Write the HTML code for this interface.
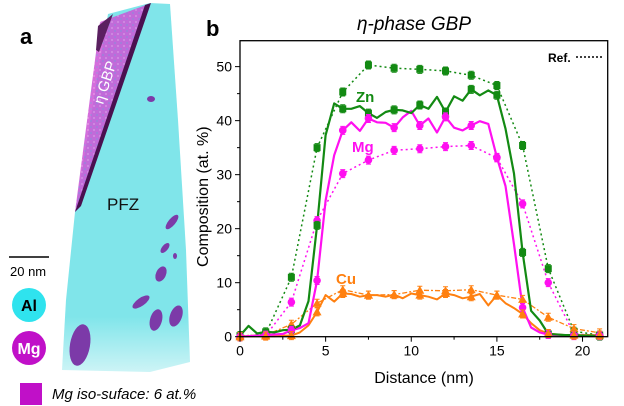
<!DOCTYPE html>
<html><head><meta charset="utf-8"><style>
body{margin:0;background:#fff;width:624px;height:406px;overflow:hidden;font-family:"Liberation Sans",sans-serif}
svg{display:block}
</style></head><body>
<svg id="fig" width="624" height="406" viewBox="0 0 624 406">
<defs>
<linearGradient id="fade" x1="0" y1="0" x2="0" y2="1"><stop offset="0.85" stop-color="#80e5ea"/><stop offset="1" stop-color="#cdf4f6"/></linearGradient>
<pattern id="speck" width="6" height="6" patternUnits="userSpaceOnUse"><rect width="6" height="6" fill="#cc55d6"/><circle cx="1" cy="1" r="1" fill="#a070d8"/><circle cx="4" cy="4" r="1" fill="#e080e0"/></pattern>
</defs>
<g>
<text x="20" y="44" font-size="22" font-weight="bold">a</text>
<polygon points="108,14 150,3 170,4 178,120 186,250 190,362 150,372 62,370 66,300 75,212" fill="url(#fade)"/>
<polygon points="100,22 146,5 80,205 75,212" fill="url(#speck)" opacity="0.85"/>
<polygon points="145,5 151,3 81,206 75,212" fill="#4a1050"/>
<polygon points="98,26 113,14 99,52 96,50" fill="#5a2060"/>
<text x="0" y="0" font-size="15" fill="#fff" transform="translate(103,105) rotate(-72)">η GBP</text>
<text x="107" y="210" font-size="17" fill="#111">PFZ</text>
<g fill="#7c3aa8">
<ellipse cx="151" cy="99" rx="4" ry="3"/>
<ellipse cx="172" cy="222" rx="3.5" ry="9" transform="rotate(40 172 222)"/>
<ellipse cx="165" cy="248" rx="3" ry="6" transform="rotate(40 165 248)"/>
<ellipse cx="175" cy="256" rx="2" ry="3"/>
<ellipse cx="161" cy="274" rx="5" ry="8" transform="rotate(25 161 274)"/>
<ellipse cx="141" cy="302" rx="4" ry="10" transform="rotate(55 141 302)"/>
<ellipse cx="156" cy="320" rx="6" ry="11" transform="rotate(15 156 320)"/>
<ellipse cx="176" cy="316" rx="6" ry="11" transform="rotate(20 176 316)"/>
<ellipse cx="80" cy="345" rx="10" ry="21" transform="rotate(10 80 345)"/>
</g>
<line x1="9" y1="257" x2="49" y2="257" stroke="#000" stroke-width="1.5"/>
<text x="10" y="276" font-size="13">20 nm</text>
<circle cx="29" cy="305" r="17" fill="#2fe3ee"/>
<text x="29" y="311" font-size="16" font-weight="bold" text-anchor="middle">Al</text>
<circle cx="29" cy="348" r="17" fill="#c010c8"/>
<text x="29" y="354" font-size="16" font-weight="bold" fill="#fff" text-anchor="middle">Mg</text>
<rect x="20" y="383" width="22" height="22" fill="#c010c8"/>
<text x="52" y="399" font-size="15" font-style="italic">Mg iso-suface: 6 at.%</text>
</g>
<g id="chart"></g>
</svg>
<script>
const xSolid = [0,0.5,1,1.5,2,2.5,3,3.5,4,4.5,5,5.5,6,6.5,7,7.5,8,8.5,9,9.5,10,10.5,11,11.5,12,12.5,13,13.5,14,14.5,15,15.5,16,16.5,17,17.5,18,18.5,19,19.5,20,20.5,21];
const znSolid = [0.2,2.0,0.6,0.9,0.8,1.2,1.3,2.1,6.6,20.6,37.3,43.2,42.2,42.2,42.7,41.4,40.5,41.6,42.0,41.9,41.4,42.9,42.2,44.4,41.6,44.5,43.7,45.8,44.7,45.6,44.7,38.5,30.2,15.6,4.8,3.0,0.5,0.4,0.3,0.3,0.2,0.2,0.1];
const mgSolid = [0,0.1,0.2,0.3,0.4,0.5,1.2,1.6,2.5,10.4,25.2,33.6,38.2,39.7,38.1,40.4,39.7,39.6,38.7,40.6,41.8,39.1,40.4,37.8,40.7,38.7,38.2,39.1,39.9,39.4,33.2,27.9,17.1,5.4,1.7,0.8,0.4,0.3,0.3,0.2,0.2,0.2,0.2];
const cuSolid = [0,0.1,0.1,0.1,0.1,0.2,0.2,0.8,2.1,4.6,7.7,6.5,8.0,7.9,7.4,7.7,7.7,7.4,7.8,7.1,8.0,7.7,7.4,6.9,8.0,7.7,7.1,7.4,7.9,5.8,7.7,6.2,5.3,4.2,2.5,1.2,0.6,0.4,0.3,0.3,0.3,0.3,0.3];
const xRef = [0,1.5,3,4.5,6,7.5,9,10.5,12,13.5,15,16.5,18,19.5,21];
const znRef = [0,0.5,11,35,45.3,50.3,49.7,49.5,49.2,48.4,46.5,35.4,12.6,1,0.3];
const mgRef = [0,0.2,6.4,21.5,30.2,32.7,34.5,34.8,35.2,35.4,33.1,24.6,10.0,0.5,0.2];
const cuRef = [0.2,0.3,2.3,6.2,8.7,7.7,7.8,8.6,8.5,8.7,7.7,6.9,3.6,1.5,0.7];
const xTicks = [0,5,10,15,20];
const yTicks = [0,10,20,30,40,50];

const NS='http://www.w3.org/2000/svg';
const L=240,R=607.7,T=40.7,B=336.7,XMAX=21.47,YMAX=54.8;
const sx=v=>L+v*(R-L)/XMAX, sy=v=>B-v*(B-T)/YMAX;
const g=document.getElementById('chart');
function mk(tag,at,parent){const e=document.createElementNS(NS,tag);for(const k in at)e.setAttribute(k,at[k]);(parent||g).appendChild(e);return e;}
function txt(s,at,parent){const e=mk('text',at,parent);e.textContent=s;return e;}

let t;
t=txt('b',{x:206,y:36,'font-size':22,'font-weight':'bold'});


t=txt('η-phase GBP',{x:414,y:30,'font-size':19,'font-style':'italic','text-anchor':'middle'});



const C={zn:'#138a13',mg:'#ff10f0',cu:'#ff8010'};
function line(xs,ys,col,w,dash,name){
  const d=xs.map((x,i)=>(i?'L':'M')+sx(x).toFixed(1)+','+sy(ys[i]).toFixed(1)).join('');
  const p=mk('path',{d:d,fill:'none',stroke:col,'stroke-width':w,'stroke-dasharray':dash||'none','stroke-linejoin':'round'});
  
  
}
function markers(xs,ys,col,shape,name){
  xs.forEach((x,i)=>{
    const cx=sx(x),cy=sy(ys[i]);
    mk('path',{d:`M${cx},${cy-4}V${cy+4}M${cx-2.5},${cy-4}h5M${cx-2.5},${cy+4}h5`,stroke:col,'stroke-width':1});
    let m;
    if(shape==='sq')m=mk('rect',{x:cx-3.5,y:cy-3.5,width:7,height:7,fill:col});
    else if(shape==='ci')m=mk('circle',{cx:cx,cy:cy,r:3.8,fill:col});
    else m=mk('path',{d:`M${cx},${cy-4.5}L${cx+4.5},${cy+3.5}L${cx-4.5},${cy+3.5}Z`,fill:col});
    
    
  });
}
line(xRef,znRef,C.zn,1.5,'2 3','zn-ref-line');
line(xRef,mgRef,C.mg,1.5,'2 3','mg-ref-line');
line(xRef,cuRef,C.cu,1.3,'5 2 2 2','cu-ref-line');
line(xSolid,cuSolid,C.cu,2,null,'cu-line');
line(xSolid,mgSolid,C.mg,2.2,null,'mg-line');
line(xSolid,znSolid,C.zn,2.2,null,'zn-line');
markers(xRef,znRef,C.zn,'sq','zn-ref');
markers(xRef,mgRef,C.mg,'ci','mg-ref');
markers(xRef,cuRef,C.cu,'tr','cu-ref');
const mx=xSolid.filter((x,i)=>i%3===0);
markers(mx,znSolid.filter((v,i)=>i%3===0),C.zn,'sq','zn');
markers(mx,mgSolid.filter((v,i)=>i%3===0),C.mg,'ci','mg');
markers(mx,cuSolid.filter((v,i)=>i%3===0),C.cu,'tr','cu');

t=mk('rect',{x:L,y:T,width:R-L,height:B-T,fill:'none',stroke:'#000','stroke-width':1.3});


for(let v=0;v<=XMAX;v+=2.5){const maj=v%5===0;mk('line',{x1:sx(v),x2:sx(v),y1:B,y2:B+(maj?5:3),stroke:'#000'});}
for(let v=0;v<=YMAX;v+=5){const maj=v%10===0;mk('line',{x1:L,x2:L-(maj?5:3),y1:sy(v),y2:sy(v),stroke:'#000'});}
xTicks.forEach(v=>{const e=txt(v,{x:sx(v),y:B+19,'font-size':14,'text-anchor':'middle'});

});
yTicks.forEach(v=>{const e=txt(v,{x:L-8,y:sy(v)+5,'font-size':14,'text-anchor':'end'});

});
t=txt('Distance (nm)',{x:424,y:383,'font-size':16,'text-anchor':'middle'});


t=txt('Composition (at. %)',{x:0,y:0,'font-size':16,'text-anchor':'middle',transform:`translate(208,${(T+B)/2+8}) rotate(-90)`});


t=txt('Zn',{x:356,y:102,'font-size':15,'font-weight':'bold',fill:C.zn});


t=txt('Mg',{x:352,y:152,'font-size':15,'font-weight':'bold',fill:C.mg});


t=txt('Cu',{x:336,y:284,'font-size':15,'font-weight':'bold',fill:C.cu});


t=txt('Ref.',{x:548,y:62,'font-size':12,'font-weight':'bold'});


t=mk('line',{x1:576,x2:602,y1:57,y2:57,stroke:'#000','stroke-width':1.5,'stroke-dasharray':'2 2'});


</script>
</body></html>
